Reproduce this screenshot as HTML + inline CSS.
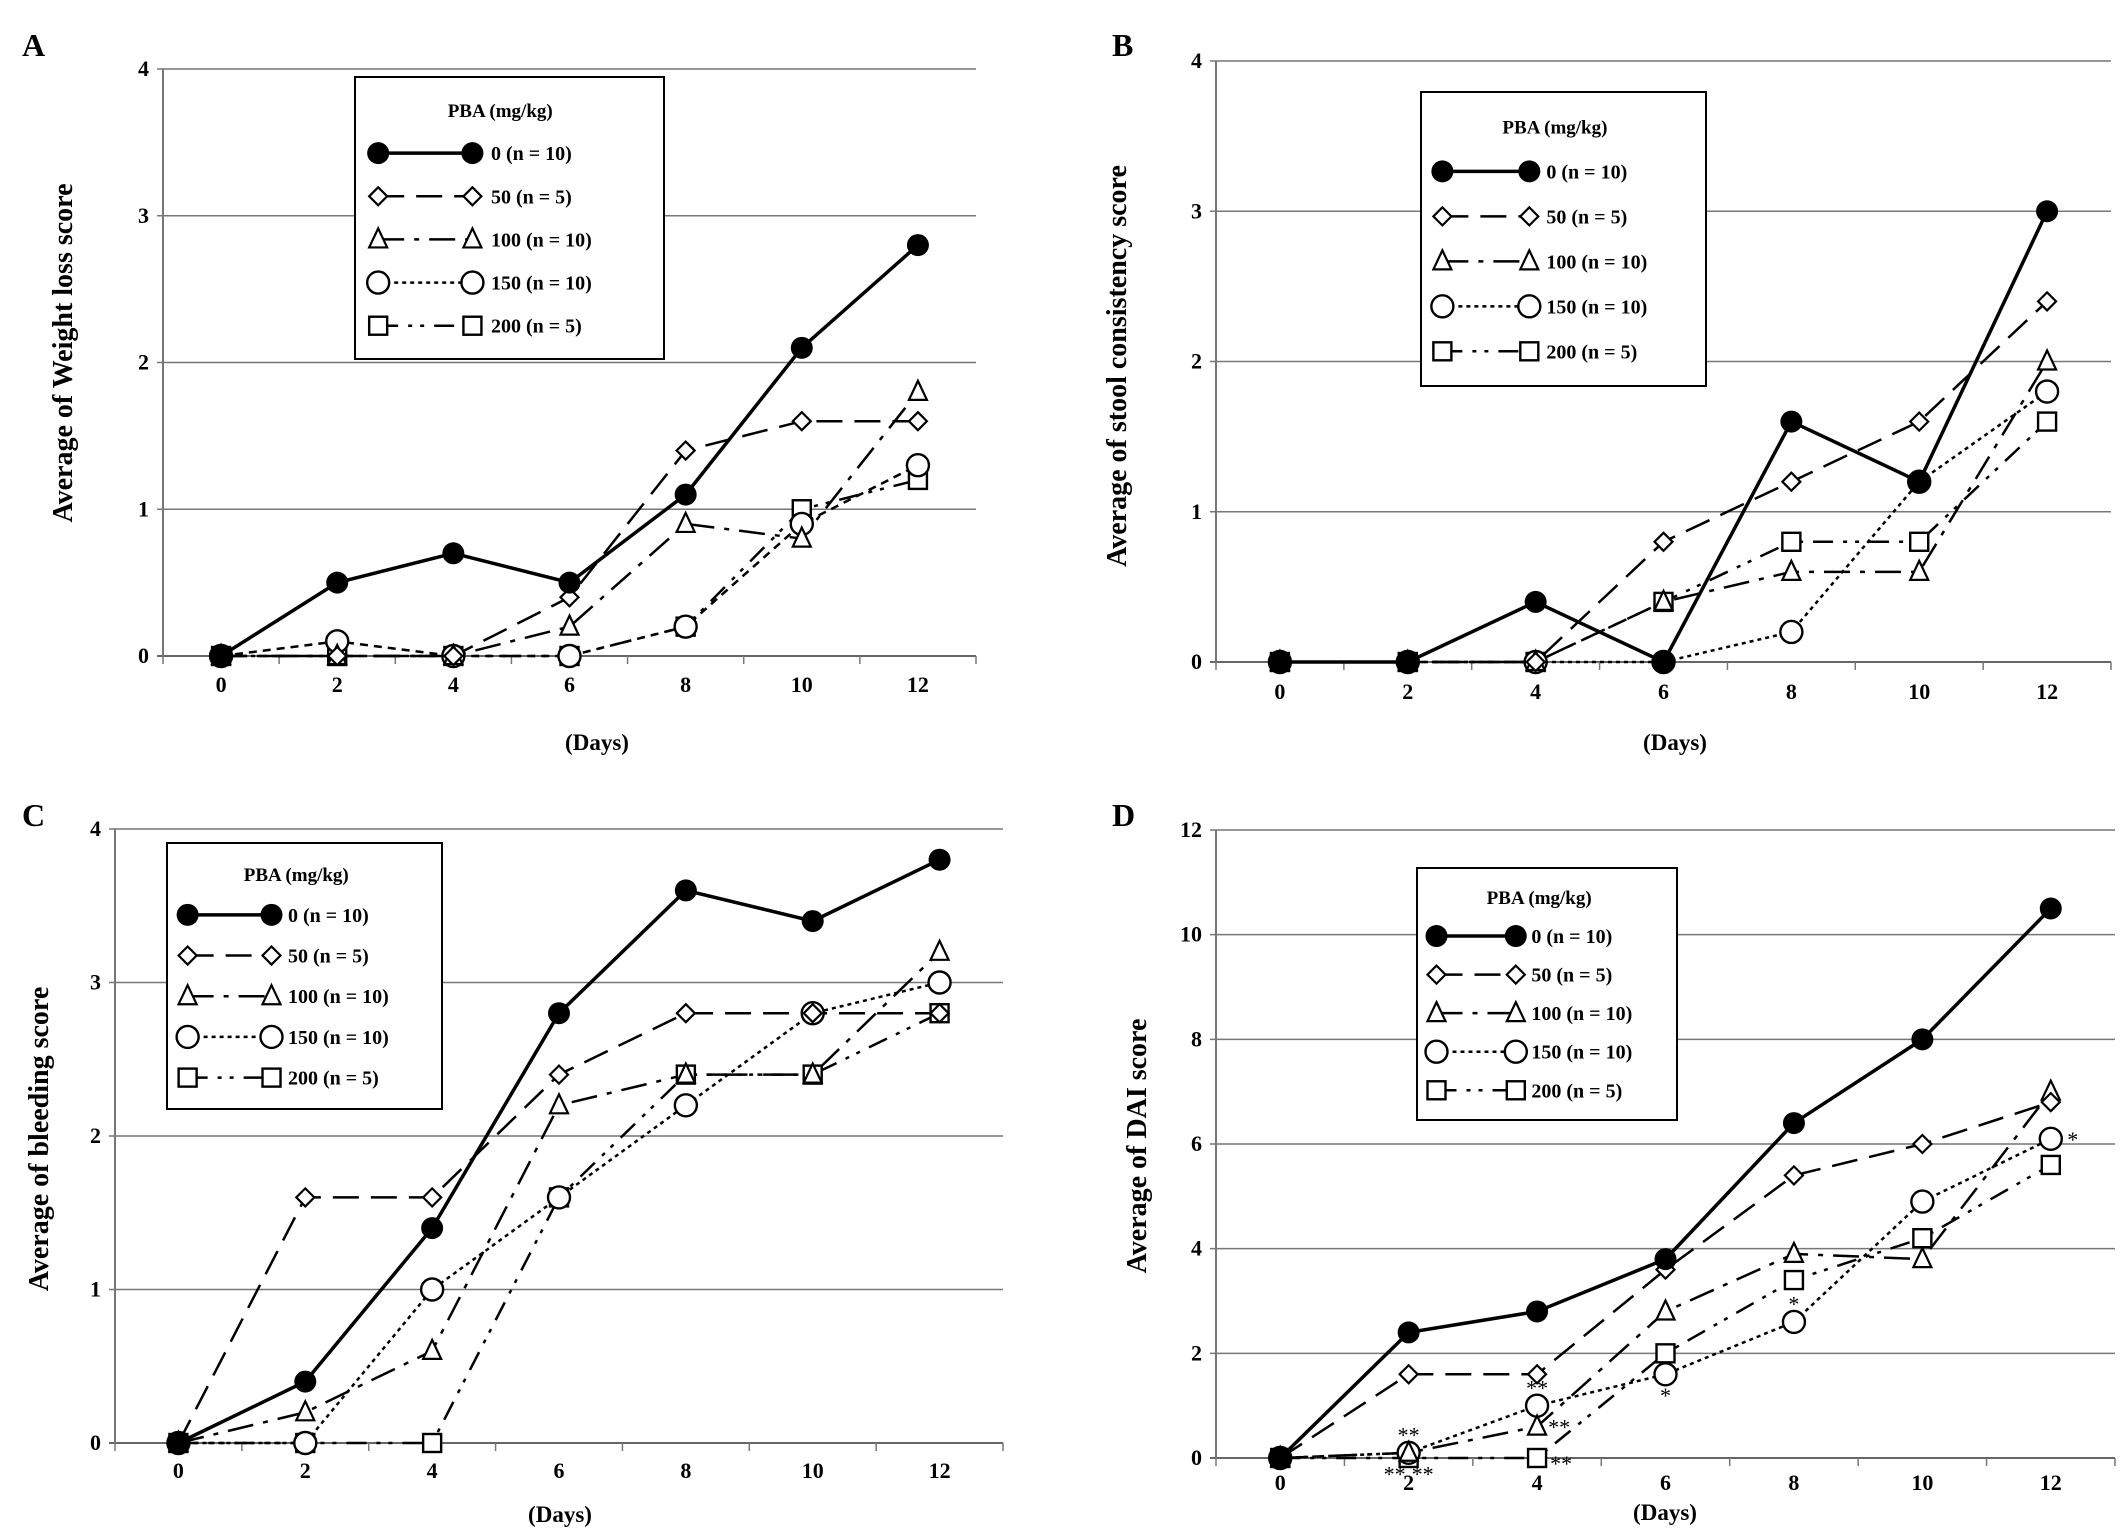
<!DOCTYPE html>
<html><head><meta charset="utf-8"><style>
body{margin:0;background:#fff}
svg{display:block;font-family:"Liberation Serif",serif;font-weight:bold}
</style></head><body>
<svg id="c" width="2126" height="1535" viewBox="0 0 2126 1535"></svg>
<script>
const days=["0","2","4","6","8","10","12"];
const seriesNames=["0 (n = 10)","50 (n = 5)","100 (n = 10)","150 (n = 10)","200 (n = 5)"];
const aVals=[[0,0.5,0.7,0.5,1.1,2.1,2.8],[0,0,0,0.4,1.4,1.6,1.6],[0,0,0,0.2,0.9,0.8,1.8],[0,0.1,0,0,0.2,0.9,1.3],[0,0,0,0,0.2,1.0,1.2]];
const bVals=[[0,0,0.4,0,1.6,1.2,3.0],[0,0,0,0.8,1.2,1.6,2.4],[0,0,0,0.4,0.6,0.6,2.0],[0,0,0,0,0.2,1.2,1.8],[0,0,0,0.4,0.8,0.8,1.6]];
const cVals=[[0,0.4,1.4,2.8,3.6,3.4,3.8],[0,1.6,1.6,2.4,2.8,2.8,2.8],[0,0.2,0.6,2.2,2.4,2.4,3.2],[0,0,1.0,1.6,2.2,2.8,3.0],[0,0,0,1.6,2.4,2.4,2.8]];
const dVals=[[0,2.4,2.8,3.8,6.4,8,10.5],[0,1.6,1.6,3.6,5.4,6,6.8],[0,0.1,0.6,2.8,3.9,3.8,7.0],[0,0.1,1.0,1.6,2.6,4.9,6.1],[0,0,0,2.0,3.4,4.2,5.6]];
const ticks4=["0","1","2","3","4"];
const ticks12=["0","2","4","6","8","10","12"];
const NS="http://www.w3.org/2000/svg";
const svg=document.getElementById('c');
function el(t,a,p){const e=document.createElementNS(NS,t);for(const k in a)e.setAttribute(k,a[k]);(p||svg).appendChild(e);return e;}
const dashes=["","26,12","26,10,5,10","4,4","20,10,4,8,4,10"];
const widths=[3.5,2.5,2.5,2.5,2.5];
function marker(g,s,x,y){
  let m;
  if(s===0)m=el('circle',{cx:x,cy:y,r:11,fill:'#000'},g);
  else if(s===1)m=el('polygon',{points:`${x},${y-9} ${x+9},${y} ${x},${y+9} ${x-9},${y}`,fill:'#fff',stroke:'#000','stroke-width':2.2},g);
  else if(s===2)m=el('polygon',{points:`${x},${y-11} ${x+9},${y+8} ${x-9},${y+8}`,fill:'#fff',stroke:'#000','stroke-width':2.2},g);
  else if(s===3)m=el('circle',{cx:x,cy:y,r:11,fill:'#fff',stroke:'#000','stroke-width':2.4},g);
  else m=el('rect',{x:x-9,y:y-9,width:18,height:18,fill:'#fff',stroke:'#000','stroke-width':2.4},g);
  
  
}
function panel(o){
  const g=el('g',{});
  
  
  const L=el('text',{x:o.lx,y:o.ly,'font-size':32},g);L.textContent=o.id.toUpperCase();
  
  const x0=o.x0,x1=o.x1,yT=o.yT,yB=o.yB,max=o.max;
  const ys=v=>yB-(v/max)*(yB-yT);
  const cw=(x1-x0)/7;const xs=i=>x0+cw*(i+0.5);
  o.ticks.forEach((t,i)=>{const y=ys(+t);
    const ln=el('line',{x1:x0-6,x2:x1,y1:y,y2:y,stroke:i===0?'#666':'#777','stroke-width':i===0?2:1.5},g);
    
    const tx=el('text',{x:x0-14,y:y+7,'font-size':22,'text-anchor':'end'},g);tx.textContent=t;
    });
  const ya=el('line',{x1:x0,x2:x0,y1:yT,y2:yB,stroke:'#777','stroke-width':2},g);
  
  for(let i=0;i<=7;i++){el('line',{x1:x0+cw*i,x2:x0+cw*i,y1:yB,y2:yB+8,stroke:'#777','stroke-width':1.5},g);}
  days.forEach((d,i)=>{const t=el('text',{x:xs(i),y:o.tickY,'font-size':22,'text-anchor':'middle'},g);t.textContent=d;
    });
  const xl=el('text',{x:o.dx,y:o.dy,'font-size':23,'text-anchor':'middle'},g);xl.textContent='(Days)';
  
  const yl=el('text',{x:0,y:0,'font-size':28,'text-anchor':'middle',transform:`translate(${o.yx},${o.yy}) rotate(-90)`},g);yl.textContent=o.ytitle;
  
  const dsh=o.dash3?dashes.map((d,i)=>i===3?o.dash3:d):dashes;
  for(let s=4;s>=0;s--){
    const pts=o.vals[s].map((v,i)=>xs(i)+','+ys(v)).join(' ');
    const pl=el('polyline',{points:pts,fill:'none',stroke:'#000','stroke-width':widths[s],'stroke-dasharray':dsh[s]},g);
    
  }
  for(let s=4;s>=0;s--)o.vals[s].forEach((v,i)=>marker(g,s,xs(i),ys(v)));
  const [bx,by,bw,bh]=o.leg;
  const lg=el('g',{},g);
  el('rect',{x:bx,y:by,width:bw,height:bh,fill:'#fff',stroke:'#000','stroke-width':2},lg);
  const tt=el('text',{x:bx+bw*0.47,y:by+bh*0.12+6,'font-size':19,'text-anchor':'middle'},lg);tt.textContent='PBA (mg/kg)';
  
  for(let s=0;s<5;s++){
    const y=by+bh*0.27+bh*0.153*s;const a=bx+bw*0.075,b=bx+bw*0.38;
    const e=el('g',{},lg);
    el('line',{x1:a,x2:b,y1:y,y2:y,stroke:'#000','stroke-width':widths[s],'stroke-dasharray':dashes[s]},e);
    marker(e,s,a,y);marker(e,s,b,y);
    const t=el('text',{x:bx+bw*0.44,y:y+7,'font-size':20},e);t.textContent=seriesNames[s];
  }
  return {xs,ys,g};
}
panel({id:'a',lx:22,ly:56,x0:163,x1:976,yT:69,yB:656,max:4,ticks:ticks4,vals:aVals,tickY:692,dx:597,dy:750,yx:72,yy:353,ytitle:'Average of Weight loss score',leg:[355,77,309,282],dash3:"8,6"});
panel({id:'b',lx:1112,ly:56,x0:1216,x1:2111,yT:61,yB:662,max:4,ticks:ticks4,vals:bVals,tickY:699,dx:1675,dy:750,yx:1126,yy:366,ytitle:'Average of stool consistency score',leg:[1421,92,285,294]});
panel({id:'c',lx:22,ly:826,x0:115,x1:1003,yT:829,yB:1443,max:4,ticks:ticks4,vals:cVals,tickY:1478,dx:560,dy:1522,yx:48,yy:1139,ytitle:'Average of bleeding score',leg:[167,843,275,266]});
const D=panel({id:'d',lx:1112,ly:826,x0:1216,x1:2115,yT:830,yB:1458,max:12,ticks:ticks12,vals:dVals,tickY:1490,dx:1665,dy:1520,yx:1146,yy:1146,ytitle:'Average of DAI score',leg:[1417,868,260,252]});
const stars=[[1,0.45,'**',0],[1,-0.3,'**',-14],[1,-0.3,'**',14],[2,1.35,'**',0],[2,0.6,'**',22],[2,-0.1,'**',24],[3,1.2,'*',0],[4,2.95,'*',0],[6,6.1,'*',22]];
stars.forEach(s=>{const t=el('text',{x:D.xs(s[0])+s[3],y:D.ys(s[1])+8,'font-size':22,'text-anchor':'middle','font-weight':'normal'},D.g);t.textContent=s[2];
  });
</script>
</body></html>
